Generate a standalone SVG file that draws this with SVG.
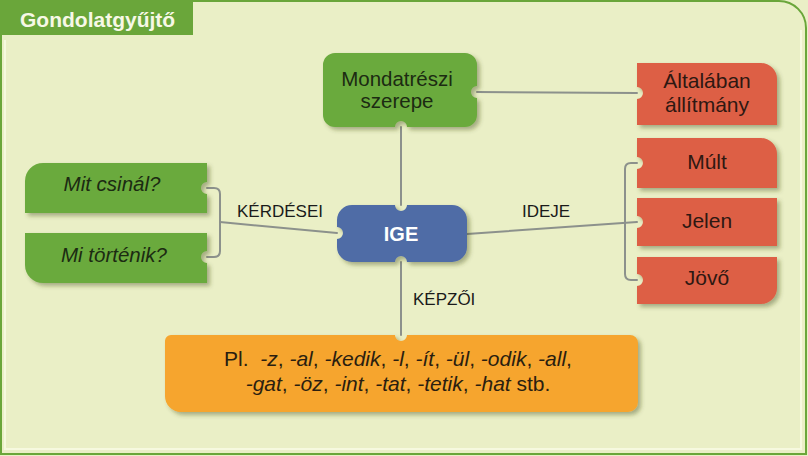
<svg xmlns="http://www.w3.org/2000/svg" width="808" height="456" viewBox="0 0 808 456">
<defs>
<filter id="sh" x="-10%" y="-20%" width="125%" height="150%">
<feDropShadow dx="3" dy="3" stdDeviation="2.2" flood-color="#3f4a1c" flood-opacity="0.4"/>
</filter>
<style>
.bg{fill:#EAEFC6}
.frame{fill:none;stroke:#6AA63A;stroke-width:2}
.inner{fill:none;stroke:#F6F9DF;stroke-width:2}
.green{fill:#6BAA3E;filter:url(#sh)}
.red{fill:#DD5F45;filter:url(#sh)}
.blue{fill:#4F6CA6;filter:url(#sh)}
.orange{fill:#F6A52D;filter:url(#sh)}
.conn{fill:none;stroke:#8C918C;stroke-width:2;stroke-linecap:round}
text{font-family:"Liberation Sans",Arial,sans-serif}
.t{font-size:20.5px;text-anchor:middle}
.tr2{font-size:21px}
.tg{fill:#1C2B12}
.tr{fill:#2E1812}
.to{fill:#2A1E10;font-size:21px}
.it{font-style:italic}
.lbl{font-size:17px;fill:#1a1a1a}
.title{font-size:21px;font-weight:bold;fill:#F7F8E6}
.ige{font-size:20px;font-weight:bold;fill:#FFFFFF;text-anchor:middle}
</style>
</defs>
<rect class="bg" x="0" y="0" width="808" height="456"/>
<path class="inner" d="M5,40 V449 H801 V30"/>
<path class="frame" d="M1,0 V454 H806 V28 A27,27 0 0 0 779,1 H190"/>
<g id="header">
<rect x="0" y="0" width="193" height="35" fill="#6AA63A"/>
<text class="title" x="20" y="27">Gondolatgyűjtő</text>
</g>
<g id="connectors">
<line class="conn" x1="401" y1="127" x2="401" y2="205"/>
<line class="conn" x1="401" y1="262" x2="401" y2="335"/>
<line class="conn" x1="477" y1="92" x2="637" y2="93"/>
<path class="conn" d="M207,188 H214 Q220,188 220,194 V251 Q220,257 214,257 H207"/>
<line class="conn" x1="220" y1="222" x2="337" y2="233"/>
<path class="conn" d="M637,163 H631 Q625,163 625,169 V274 Q625,280 631,280 H637"/>
<line class="conn" x1="467" y1="234" x2="637" y2="222"/>
</g>
<g id="labels">
<text class="lbl" x="237" y="217">KÉRDÉSEI</text>
<text class="lbl" x="522" y="217">IDEJE</text>
<text class="lbl" x="413" y="305">KÉPZŐI</text>
</g>
<g id="mondatreszi">
<path class="green" d="M335,53 H465 A12,12 0 0 1 477,65 V86 A6,6 0 0 0 477,98 V115 A12,12 0 0 1 465,127 H407 A6,6 0 0 0 395,127 H335 A12,12 0 0 1 323,115 V65 A12,12 0 0 1 335,53 Z"/>
<text class="t tg" x="397" y="86">Mondatrészi</text>
<text class="t tg" x="397" y="108">szerepe</text>
</g>
<g id="ige">
<path class="blue" d="M352,205 H395 A6,6 0 0 0 407,205 H452 A15,15 0 0 1 467,220 V247 A15,15 0 0 1 452,262 H407 A6,6 0 0 0 395,262 H352 A15,15 0 0 1 337,247 V239 A6,6 0 0 0 337,227 V220 A15,15 0 0 1 352,205 Z"/>
<text class="ige" x="401" y="241">IGE</text>
</g>
<g id="mit-csinal">
<path class="green" d="M43,163 H207 V182 A6,6 0 0 0 207,194 V213 H25 V181 A18,18 0 0 1 43,163 Z"/>
<text class="t tg it" x="112" y="191">Mit csinál?</text>
</g>
<g id="mi-tortenik">
<path class="green" d="M25,233 H207 V251 A6,6 0 0 0 207,263 V283 H43 A18,18 0 0 1 25,265 Z"/>
<text class="t tg it" x="114" y="262">Mi történik?</text>
</g>
<g id="altalaban">
<path class="red" d="M637,63 H761 A16,16 0 0 1 777,79 V125 H637 V99 A6,6 0 0 0 637,87 Z"/>
<text class="t tr tr2" x="707" y="88">Általában</text>
<text class="t tr tr2" x="707" y="112">állítmány</text>
</g>
<g id="mult">
<path class="red" d="M637,138 H761 A16,16 0 0 1 777,154 V188 H637 V169 A6,6 0 0 0 637,157 Z"/>
<text class="t tr tr2" x="707" y="169">Múlt</text>
</g>
<g id="jelen">
<path class="red" d="M637,198 H777 V246 H637 V228 A6,6 0 0 0 637,216 Z"/>
<text class="t tr tr2" x="707" y="228">Jelen</text>
</g>
<g id="jovo">
<path class="red" d="M637,257 H777 V288 A16,16 0 0 1 761,304 H637 V286 A6,6 0 0 0 637,274 Z"/>
<text class="t tr tr2" x="707" y="285">Jövő</text>
</g>
<g id="kepzoi">
<path class="orange" d="M171,335 H395 A6,6 0 0 0 407,335 H630 A8,8 0 0 1 638,343 V402 A10,10 0 0 1 628,412 H181 A16,16 0 0 1 165,396 V341 A6,6 0 0 1 171,335 Z"/>
<text class="t to" x="398" y="366">Pl.&#160; <tspan class="it">-z</tspan>, <tspan class="it">-al</tspan>, <tspan class="it">-kedik</tspan>, <tspan class="it">-l</tspan>, <tspan class="it">-ít</tspan>, <tspan class="it">-ül</tspan>, <tspan class="it">-odik</tspan>, <tspan class="it">-all</tspan>,</text>
<text class="t to" x="398" y="391"><tspan class="it">-gat</tspan>, <tspan class="it">-öz</tspan>, <tspan class="it">-int</tspan>, <tspan class="it">-tat</tspan>, <tspan class="it">-tetik</tspan>, <tspan class="it">-hat</tspan> stb.</text>
</g>
</svg>
